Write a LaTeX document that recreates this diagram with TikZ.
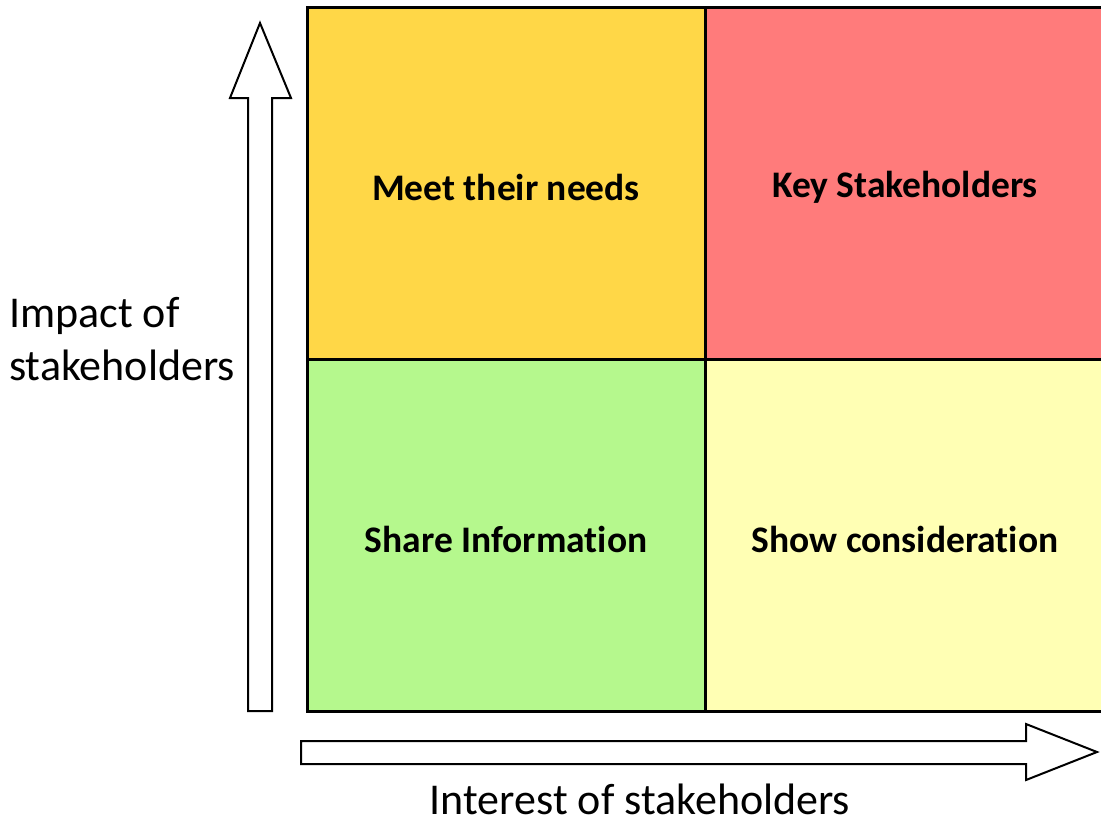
\documentclass[tikz,border=0pt]{standalone}
\usepackage{fontspec}
\setmainfont{Carlito}[Ligatures=NoCommon]
\definecolor{cmeet}{HTML}{FFD747}
\definecolor{ckey}{HTML}{FF7B7B}
\definecolor{cshare}{HTML}{B5F88D}
\definecolor{cshow}{HTML}{FFFFB4}
\begin{document}
\begin{tikzpicture}[x=1pt,y=-1pt,
  quad/.style={font=\bfseries\fontsize{37.5}{44}\selectfont, text=black},
  axislbl/.style={font=\fontsize{44}{53}\selectfont, text=black, inner sep=0pt},
  grid/.style={line width=3pt, black},
  bigarrow/.style={draw=black, line width=2pt, fill=white, line join=miter}]
\useasboundingbox (0,0) rectangle (1101,823);
\fill[cmeet] (307,7) rectangle (705,359);
\fill[ckey] (705,7) rectangle (1101,359);
\fill[cshare] (307,359) rectangle (705,711);
\fill[cshow] (705,359) rectangle (1101,711);
\draw[grid] (1102,7) -- (307,7) -- (307,711) -- (1102,711);
\draw[grid] (705,7) -- (705,711);
\draw[grid] (307,359) -- (1102,359);
\node[quad] (meet) at (506,187) {Meet their needs};
\node[quad] (key) at (905,187) {Key Stakeholders};
\node[quad] (share) at (506,539) {Share Information};
\node[quad] (show) at (905,539) {Show consideration};
% up arrow
\draw[bigarrow] (248,711) -- (248,98) -- (230,98) -- (260,23) -- (291,98) -- (272,98) -- (272,711) -- cycle;
% right arrow
\draw[bigarrow] (301,741) -- (1026,741) -- (1026,724) -- (1097,752) -- (1026,780) -- (1026,764) -- (301,764) -- cycle;
\node[axislbl, align=left, anchor=base west] (impact) at (9,380) {Impact of\\stakeholders};
\node[axislbl, anchor=base, text depth=0pt] (interest) at (640,814) {Interest of stakeholders};
\end{tikzpicture}
\end{document}
